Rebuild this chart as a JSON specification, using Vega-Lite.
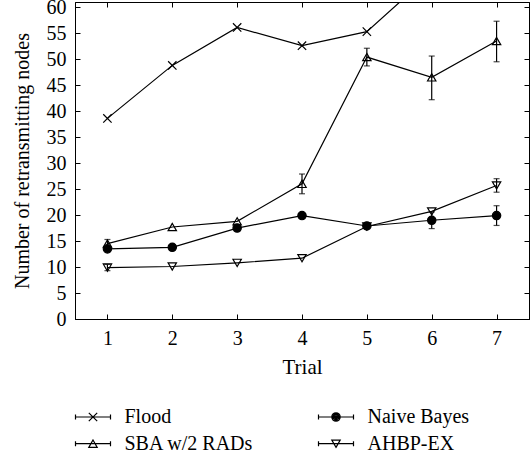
{
  "$schema": "https://vega.github.io/schema/vega-lite/v6.json",
  "width": 454,
  "height": 317,
  "autosize": "none",
  "padding": {"left": 75, "top": 2, "right": 1, "bottom": 142},
  "background": "white",
  "config": {
    "font": "Liberation Serif",
    "view": {"stroke": "black", "strokeWidth": 1},
    "axis": {
      "domainColor": "black", "tickColor": "black", "labelColor": "black", "titleColor": "black",
      "labelFont": "Liberation Serif", "titleFont": "Liberation Serif",
      "labelFontSize": 20, "titleFontSize": 21, "titleFontWeight": "normal",
      "grid": false, "tickSize": -5, "domainWidth": 1, "tickWidth": 1
    }
  },
  "data": {
    "values": [
      {"series": "Flood", "trial": 1, "value": 38.6},
      {"series": "Flood", "trial": 2, "value": 48.8},
      {"series": "Flood", "trial": 3, "value": 56.1},
      {"series": "Flood", "trial": 4, "value": 52.6},
      {"series": "Flood", "trial": 5, "value": 55.3},
      {"series": "Flood", "trial": 6, "value": 66.5},
      {"series": "Flood", "trial": 7, "value": 70.0},
      {"series": "SBA w/2 RADs", "trial": 1, "value": 14.5, "lo": 13.7, "hi": 15.3},
      {"series": "SBA w/2 RADs", "trial": 2, "value": 17.7},
      {"series": "SBA w/2 RADs", "trial": 3, "value": 18.8},
      {"series": "SBA w/2 RADs", "trial": 4, "value": 26.0, "lo": 24.1, "hi": 27.9},
      {"series": "SBA w/2 RADs", "trial": 5, "value": 50.4, "lo": 48.7, "hi": 52.1},
      {"series": "SBA w/2 RADs", "trial": 6, "value": 46.5, "lo": 42.2, "hi": 50.6},
      {"series": "SBA w/2 RADs", "trial": 7, "value": 53.5, "lo": 49.5, "hi": 57.3},
      {"series": "Naive Bayes", "trial": 1, "value": 13.5},
      {"series": "Naive Bayes", "trial": 2, "value": 13.8},
      {"series": "Naive Bayes", "trial": 3, "value": 17.5},
      {"series": "Naive Bayes", "trial": 4, "value": 19.9},
      {"series": "Naive Bayes", "trial": 5, "value": 17.9},
      {"series": "Naive Bayes", "trial": 6, "value": 19.0, "lo": 17.4, "hi": 20.6},
      {"series": "Naive Bayes", "trial": 7, "value": 19.9, "lo": 18.0, "hi": 21.8},
      {"series": "AHBP-EX", "trial": 1, "value": 9.9, "lo": 9.3, "hi": 10.5},
      {"series": "AHBP-EX", "trial": 2, "value": 10.1},
      {"series": "AHBP-EX", "trial": 3, "value": 10.8},
      {"series": "AHBP-EX", "trial": 4, "value": 11.7},
      {"series": "AHBP-EX", "trial": 5, "value": 17.8},
      {"series": "AHBP-EX", "trial": 6, "value": 20.7},
      {"series": "AHBP-EX", "trial": 7, "value": 25.7, "lo": 24.4, "hi": 27.0}
    ]
  },
  "layer": [
    {
      "mark": {"type": "line", "color": "black", "strokeWidth": 1.2, "clip": true},
      "encoding": {
        "x": {"field": "trial", "type": "quantitative", "scale": {"domain": [0.5, 7.5], "nice": false, "zero": false},
              "axis": {"values": [1,2,3,4,5,6,7], "format": "d", "title": "Trial", "labelPadding": 14, "titlePadding": 8}},
        "y": {"field": "value", "type": "quantitative", "scale": {"domain": [0, 61], "nice": false},
              "axis": {"values": [0,5,10,15,20,25,30,35,40,45,50,55,60], "title": "Number of retransmitting nodes", "titleFontSize": 20, "labelPadding": 14, "titlePadding": 14}},
        "detail": {"field": "series"}
      }
    },
    {
      "transform": [{"filter": "datum.lo != null"}],
      "mark": {"type": "errorbar", "ticks": true, "size": 6, "color": "black", "thickness": 1.2},
      "encoding": {
        "x": {"field": "trial", "type": "quantitative", "axis": null},
        "y": {"field": "lo", "type": "quantitative", "axis": null},
        "y2": {"field": "hi"}
      }
    },
    {
      "mark": {"type": "point", "size": 70, "stroke": "black", "strokeWidth": 1.2, "opacity": 1, "clip": true},
      "encoding": {
        "x": {"field": "trial", "type": "quantitative", "axis": null},
        "y": {"field": "value", "type": "quantitative", "axis": null},
        "shape": {"field": "series", "legend": null,
          "scale": {"domain": ["Flood", "Naive Bayes", "SBA w/2 RADs", "AHBP-EX"],
                    "range": ["M-1,-1L1,1M-1,1L1,-1", "circle", "triangle-up", "triangle-down"]}},
        "fill": {"field": "series", "legend": null,
          "scale": {"domain": ["Flood", "Naive Bayes", "SBA w/2 RADs", "AHBP-EX"],
                    "range": ["transparent", "black", "transparent", "transparent"]}}
      }
    },
    {
      "mark": {"type": "point", "size": 100, "filled": false, "color": "black", "strokeWidth": 1.2, "opacity": 1, "clip": true},
      "encoding": {
        "x": {"field": "trial", "type": "quantitative",
              "axis": {"orient": "top", "values": [1,2,3,4,5,6,7], "labels": false, "title": null}},
        "y": {"datum": -50, "type": "quantitative",
              "axis": {"orient": "right", "values": [0,5,10,15,20,25,30,35,40,45,50,55,60], "labels": false, "title": null}},
        "shape": {"field": "series",
          "scale": {"domain": ["Flood", "Naive Bayes", "SBA w/2 RADs", "AHBP-EX"],
                    "range": [
                      "M-3.5,0H3.5M-3.5,-0.5V0.5M3.5,-0.5V0.5M-0.84,-0.84L0.84,0.84M-0.84,0.84L0.84,-0.84",
                      "M-3.5,0H3.5M-3.5,-0.5V0.5M3.5,-0.5V0.5M-0.84,0A0.84,0.84,0,1,0,0.84,0A0.84,0.84,0,1,0,-0.84,0M-0.62,0A0.62,0.62,0,1,0,0.62,0A0.62,0.62,0,1,0,-0.62,0M-0.4,0A0.4,0.4,0,1,0,0.4,0A0.4,0.4,0,1,0,-0.4,0M-0.18,0A0.18,0.18,0,1,0,0.18,0A0.18,0.18,0,1,0,-0.18,0",
                      "M-3.5,0H3.5M-3.5,-0.5V0.5M3.5,-0.5V0.5M0,-0.73L0.84,0.73L-0.84,0.73Z",
                      "M-3.5,0H3.5M-3.5,-0.5V0.5M3.5,-0.5V0.5M0,0.73L0.84,-0.73L-0.84,-0.73Z"
                    ]},
          "legend": {"title": null, "orient": "none", "legendX": 8, "legendY": 405, "columns": 2, "direction": "horizontal",
                     "symbolSize": 100, "symbolStrokeColor": "black", "symbolFillColor": "transparent", "symbolStrokeWidth": 1.2,
                     "labelFont": "Liberation Serif", "labelFontSize": 20, "labelColor": "black",
                     "labelOffset": 21.5, "columnPadding": 62, "rowPadding": 6.7, "labelLimit": 300}}
      }
    }
  ],
  "resolve": {
    "scale": {"shape": "independent", "fill": "independent"},
    "axis": {"x": "independent", "y": "independent"}
  }
}
